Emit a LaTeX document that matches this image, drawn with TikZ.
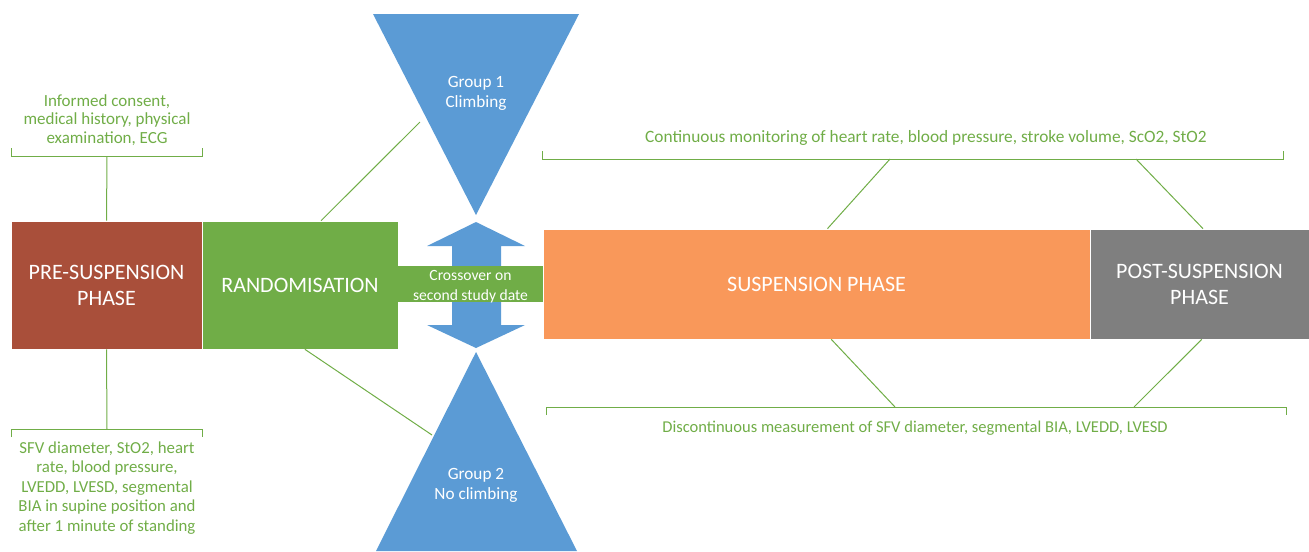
\documentclass[tikz,border=0pt]{standalone}
\usepackage{fontspec}
\setmainfont{Carlito}
\usetikzlibrary{calc}
\definecolor{gr}{HTML}{70AD47}
\definecolor{bl}{HTML}{5B9BD5}
\definecolor{rd}{HTML}{A94F3A}
\definecolor{orng}{HTML}{F9985A}
\definecolor{gy}{HTML}{7F7F7F}
\begin{document}
\begin{tikzpicture}[x=0.75pt,y=-0.75pt,
  box/.style={draw=white, line width=0.5pt, inner sep=0pt, text=white, align=center,
    font=\fontsize{16.5}{19.5}\selectfont},
  note/.style={text=gr, align=center, inner sep=0pt, font=\fontsize{12.75}{13.9}\selectfont},
  grp/.style={text=white, align=center, inner sep=0pt, font=\fontsize{12.9}{15}\selectfont},
  link/.style={draw=gr, line width=0.75pt},
  tri/.style={fill=bl, draw=none}]
\useasboundingbox (0,0) rectangle (1309,551);

% triangles and double arrow
\fill[tri] (373,14) -- (579,14) -- (476,215) -- cycle;
\fill[tri] (376,551) -- (577,551) -- (476,352) -- cycle;
\fill[tri] (476,222) -- (525,246) -- (501,246) -- (501,325) -- (525,325) -- (476,348)
  -- (427,325) -- (452,325) -- (452,246) -- (427,246) -- cycle;
\node[grp] (g1) at (476,93) {Group 1\\Climbing};
\node[grp] (g2) at (476,485) {Group 2\\No climbing};
\coordinate (t1) at (420,122);
\coordinate (t2) at (432,435);

% boxes
\node[box, fill=rd, minimum width={191*0.75pt}, minimum height={128*0.75pt}] (pre) at (106.5,285) {PRE-SUSPENSION\\PHASE};
\node[box, fill=gr, minimum width={196*0.75pt}, minimum height={128*0.75pt}] (rand) at (300,285) {RANDOMISATION};
\node[box, draw=none, fill=gr, minimum width={145*0.75pt}, minimum height={36*0.75pt}] (cross) at (470.5,284) {};
\node[box, draw=none, font=\fontsize{11.7}{15}\selectfont] (crosstxt) at (470.5,286.5) {Crossover on\\second study date};
\node[box, fill=orng, minimum width={547*0.75pt}, minimum height={110*0.75pt}] (susp) at (816.5,284) {SUSPENSION PHASE};
\node[box, fill=gy, minimum width={219*0.75pt}, minimum height={110*0.75pt}] (post) at (1199.5,284) {POST-SUSPENSION\\PHASE};

% notes
\node[note] (n1) at (107,120) {Informed consent,\\medical history, physical\\examination, ECG};
\node[note, font=\fontsize{12.6}{14.6}\selectfont] (n2) at (107,488) {SFV diameter, StO2, heart\\rate, blood pressure,\\LVEDD, LVESD, segmental\\BIA in supine position and\\after 1 minute of standing};
\node[note, font=\fontsize{13}{15}\selectfont] (n3) at (926,138) {Continuous monitoring of heart rate, blood pressure, stroke volume, ScO2, StO2};
\node[note, font=\fontsize{12.4}{15}\selectfont] (n4) at (915,428) {Discontinuous measurement of SFV diameter, segmental BIA, LVEDD, LVESD};

% brackets
\draw[link] (11,148) -- (11,156) -- (202,156) -- (202,148);
\coordinate (b1) at (107,156);
\draw[link] (11,437) -- (11,429) -- (202,429) -- (202,437);
\coordinate (b2) at (107,429);
\draw[link] (542,151) -- (542,159) -- (1283,159) -- (1283,151);
\coordinate (b3a) at (890,159);
\coordinate (b3b) at (1136,159);
\draw[link] (546,415) -- (546,407) -- (1286,407) -- (1286,415);
\coordinate (b4a) at (895,407);
\coordinate (b4b) at (1134,407);

% connectors
\draw[link] (pre.north) -- (b1);
\draw[link] (pre.south) -- (b2);
\draw[link] ($(rand.north west)!0.607!(rand.north east)$) -- (t1);
\draw[link] ($(rand.south west)!0.525!(rand.south east)$) -- (t2);
\draw[link] ($(susp.north west)!0.52!(susp.north east)$) -- (b3a);
\draw[link] ($(post.north west)!0.516!(post.north east)$) -- (b3b);
\draw[link] ($(susp.south west)!0.527!(susp.south east)$) -- (b4a);
\draw[link] ($(post.south west)!0.51!(post.south east)$) -- (b4b);
\end{tikzpicture}
\end{document}
